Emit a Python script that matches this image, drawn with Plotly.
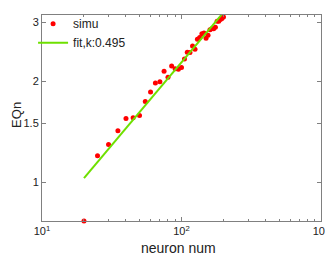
import plotly.graph_objects as go
import math

neuron_num = [20, 25, 30, 35, 40, 45, 50, 55, 60, 65, 70, 75, 80, 85, 90, 95, 100,
              105, 110, 115, 120, 125, 130, 135, 140, 145, 150, 155, 160, 165, 170,
              175, 180, 185, 190, 195, 200]
eqn_simu = [0.765, 1.198, 1.295, 1.422, 1.548, 1.556, 1.579, 1.741, 1.858, 1.977, 1.993,
            2.142, 2.054, 2.221, 2.181, 2.171, 2.200, 2.332, 2.443, 2.438, 2.549, 2.493,
            2.671, 2.701, 2.774, 2.787, 2.689, 2.743, 2.849, 2.868, 2.870, 2.900, 3.020,
            3.020, 3.060, 3.080, 3.110]
fit_x = [20, 200]
fit_y = [1.027, 3.21]
x_tickvals = [10, 100, 1000]
x_ticktext = ["10<sup>1</sup>", "10<sup>2</sup>", "10<sup>3</sup>"]
y_tickvals = [1, 1.5, 2, 3]
y_ticktext = ["1", "1.5", "2", "3"]

FONT = "Liberation Sans, Arial"
fig = go.Figure()
fig.add_trace(go.Scatter(x=neuron_num, y=eqn_simu, mode="markers", name="simu",
                         marker=dict(color="#ff0000", size=5), cliponaxis=False))
fig.add_trace(go.Scatter(x=fit_x, y=fit_y, mode="lines", name="fit,k:0.495",
                         line=dict(color="#6ee000", width=2), cliponaxis=True))

axis_common = dict(showline=True, linecolor="#808080", linewidth=1, mirror="ticks",
                   ticks="inside", tickcolor="#808080", ticklen=4, showgrid=False,
                   zeroline=False, tickfont=dict(family=FONT, size=11, color="#222"))
fig.update_xaxes(type="log", range=[1, 3], tickvals=x_tickvals, ticktext=x_ticktext,
                 minor=dict(ticks="inside", ticklen=2, tickcolor="#808080", dtick="D1"),
                 **axis_common)
ylo = math.log10(0.765)
fig.update_yaxes(type="log", range=[ylo, ylo + 212 / 344.6],
                 tickvals=y_tickvals, ticktext=y_ticktext, **axis_common)
fig.add_annotation(text="neuron num", xref="paper", yref="paper", x=0.4875, y=-0.129,
                   xanchor="center", yanchor="middle", showarrow=False,
                   font=dict(family=FONT, size=14, color="#222"))
fig.add_annotation(text="EQn", xref="paper", yref="paper", x=-0.094, y=0.514,
                   xanchor="center", yanchor="middle", showarrow=False, textangle=-90,
                   borderpad=0, font=dict(family=FONT, size=13, color="#222"))
fig.update_layout(width=325, height=249, margin=dict(l=34, r=12, t=1, b=36),
                  paper_bgcolor="white", plot_bgcolor="white",
                  legend=dict(x=-0.032, y=1.028, xanchor="left", yanchor="top",
                              bgcolor="rgba(0,0,0,0)", font=dict(family=FONT, size=12, color="#222"),
                              itemwidth=30, tracegroupgap=0))
fig.write_html("out.html")
